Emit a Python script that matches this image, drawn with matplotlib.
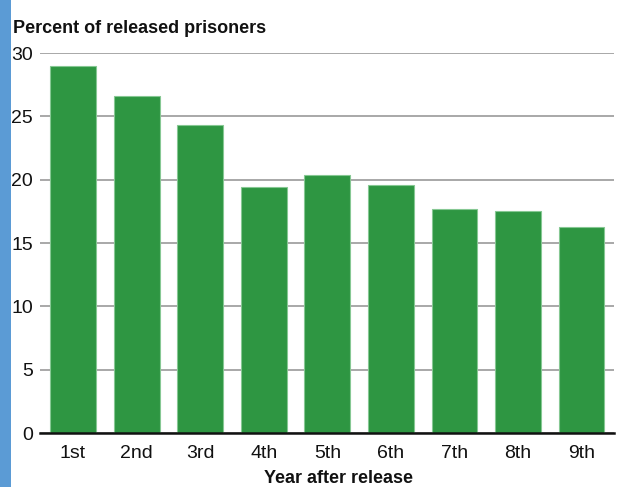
import matplotlib
matplotlib.use('Agg')
import matplotlib.pyplot as plt
from matplotlib.patches import Rectangle

# Data
years = ['1st', '2nd', '3rd', '4th', '5th', '6th', '7th', '8th', '9th']
percent = [29.0, 26.6, 24.3, 19.4, 20.4, 19.6, 17.7, 17.5, 16.3]
yticks = [0, 5, 10, 15, 20, 25, 30]

# no condensed font installed; Liberation Sans is the narrowest close match
plt.rcParams['font.family'] = ['Liberation Sans', 'DejaVu Sans']

W, H = 618, 487
fig = plt.figure(figsize=(W / 100, H / 100), dpi=100)
ax = fig.add_axes([40 / W, 1 - 433 / H, 574 / W, 380 / H])

# blue strip on the left edge
fig.patches.append(Rectangle((0, 0), 11 / W, 1, transform=fig.transFigure,
                             facecolor='#5b9bd5', edgecolor='none'))

x = range(len(years))
ax.bar(x, percent, width=0.72, color='#2e9642', edgecolor='#86c893',
       linewidth=0.8, zorder=3)

ax.set_ylim(0, 30)
ax.set_xlim(-0.52, 8.51)
ax.set_yticks(yticks)
ax.set_xticks(list(x))
ax.set_xticklabels(years)
ax.yaxis.grid(True, color='#9a9a9a', linewidth=1.2, zorder=0)
ax.tick_params(axis='both', length=0, labelsize=14, colors='#111111')
ax.tick_params(axis='y', pad=5)
ax.tick_params(axis='x', pad=9)

for side in ['top', 'right', 'left']:
    ax.spines[side].set_visible(False)
ax.spines['bottom'].set_color('#111111')
ax.spines['bottom'].set_linewidth(1.8)
ax.spines['bottom'].set_zorder(4)

fig.text(13 / W, 1 - 33 / H, 'Percent of released prisoners', fontsize=13,
         fontweight='bold', ha='left', va='baseline', color='#111111')
fig.text(339 / W, 1 - 483 / H, 'Year after release', fontsize=13,
         fontweight='bold', ha='center', va='baseline', color='#111111')

fig.savefig('out.png', dpi=100)
